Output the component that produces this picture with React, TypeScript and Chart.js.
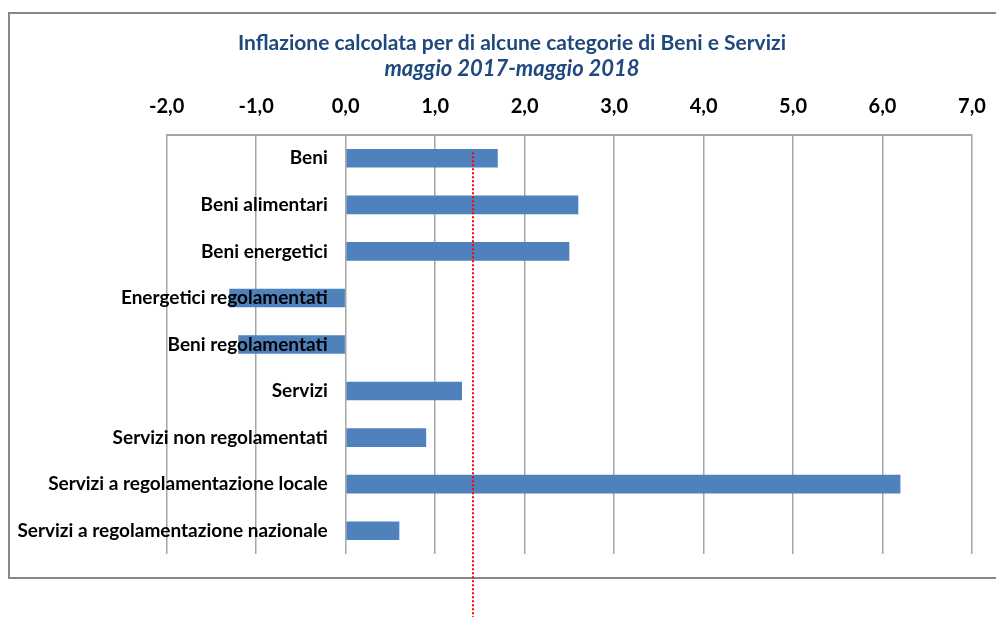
import React, { useEffect, useRef } from "react";
import { Chart, registerables } from "chart.js";

Chart.register(...registerables);

const categories: string[] = [
  "Beni",
  "Beni alimentari",
  "Beni energetici",
  "Energetici regolamentati",
  "Beni regolamentati",
  "Servizi",
  "Servizi non regolamentati",
  "Servizi a regolamentazione locale",
  "Servizi a regolamentazione nazionale",
];

const inflazione: number[] = [1.7, 2.6, 2.5, -1.3, -1.2, 1.3, 0.9, 6.2, 0.6];

const xMin = -2;
const xMax = 7;
const xStep = 1;

const riferimento = 1.42;

const titolo = "Inflazione calcolata per di alcune categorie di Beni e Servizi";
const sottotitolo = "maggio 2017-maggio 2018";

const FONT = "Lato, 'Noto Sans', sans-serif";

const overlayPlugin = {
  id: "overlay",
  afterDraw(chart: any) {
    const ctx = chart.ctx;
    const xs = chart.scales.x;
    const ys = chart.scales.y;
    // titles
    ctx.save();
    ctx.fillStyle = "#1F497D";
    ctx.textAlign = "center";
    ctx.textBaseline = "middle";
    ctx.font = `bold 21px ${FONT}`;
    ctx.fillText(titolo, 504, 35);
    ctx.font = `italic bold 22px ${FONT}`;
    ctx.fillText(sottotitolo, 504, 61);
    ctx.restore();
    // reference dotted line
    const px = Math.round(xs.getPixelForValue(riferimento));
    const y0 = ys.getPixelForValue(0) - 6;
    ctx.save();
    ctx.strokeStyle = "#FF0000";
    ctx.lineWidth = 2;
    ctx.setLineDash([2, 2]);
    ctx.beginPath();
    ctx.moveTo(px, y0);
    ctx.lineTo(px, chart.height);
    ctx.stroke();
    ctx.restore();
  },
};

export default function App() {
  const ref = useRef<HTMLCanvasElement | null>(null);

  useEffect(() => {
    if (!ref.current) return;
    const chart = new Chart(ref.current, {
      type: "bar",
      data: {
        labels: categories,
        datasets: [
          {
            data: inflazione,
            backgroundColor: "#4F81BD",
            borderWidth: 0,
            barPercentage: 0.4,
            categoryPercentage: 1,
          },
        ],
      },
      options: {
        indexAxis: "y",
        animation: false,
        responsive: false,
        events: [],
        layout: { padding: { left: 158.7, right: 32, top: 87, bottom: 63 } },
        plugins: {
          legend: { display: false },
          tooltip: { enabled: false },
          title: { display: false },
        },
        scales: {
          x: {
            type: "linear",
            position: "top",
            min: xMin,
            max: xMax,
            ticks: {
              stepSize: xStep,
              color: "#000000",
              padding: 16,
              font: { family: FONT, size: 20, weight: "bold" },
              callback: (v: any) => Number(v).toFixed(1).replace(".", ","),
            },
            grid: {
              color: "#A6A6A6",
              lineWidth: 1.5,
              drawTicks: false,
            },
            border: { display: true, color: "#A6A6A6", width: 2 },
            afterFit: (s: any) => {
              s.height = 40;
            },
          },
          y: {
            type: "category",
            position: { x: -0.2 } as any,
            ticks: {
              z: 1,
              color: "#000000",
              padding: 0,
              font: { family: FONT, size: 19, weight: "bold" },
            },
            grid: { display: false },
            border: { display: false },
          },
        },
      },
      plugins: [overlayPlugin],
    });
    return () => chart.destroy();
  }, []);

  return (
    <div style={{ position: "relative", width: 996, height: 609 }}>
      <div
        style={{
          position: "absolute",
          left: 0,
          top: 4,
          width: 996,
          height: 567,
          boxSizing: "border-box",
          borderLeft: "2px solid #878787",
          borderTop: "2px solid #878787",
          borderBottom: "2px solid #878787",
        }}
      />
      <canvas
        ref={ref}
        width={996}
        height={609}
        style={{ position: "absolute", left: 0, top: 0 }}
      />
    </div>
  );
}
